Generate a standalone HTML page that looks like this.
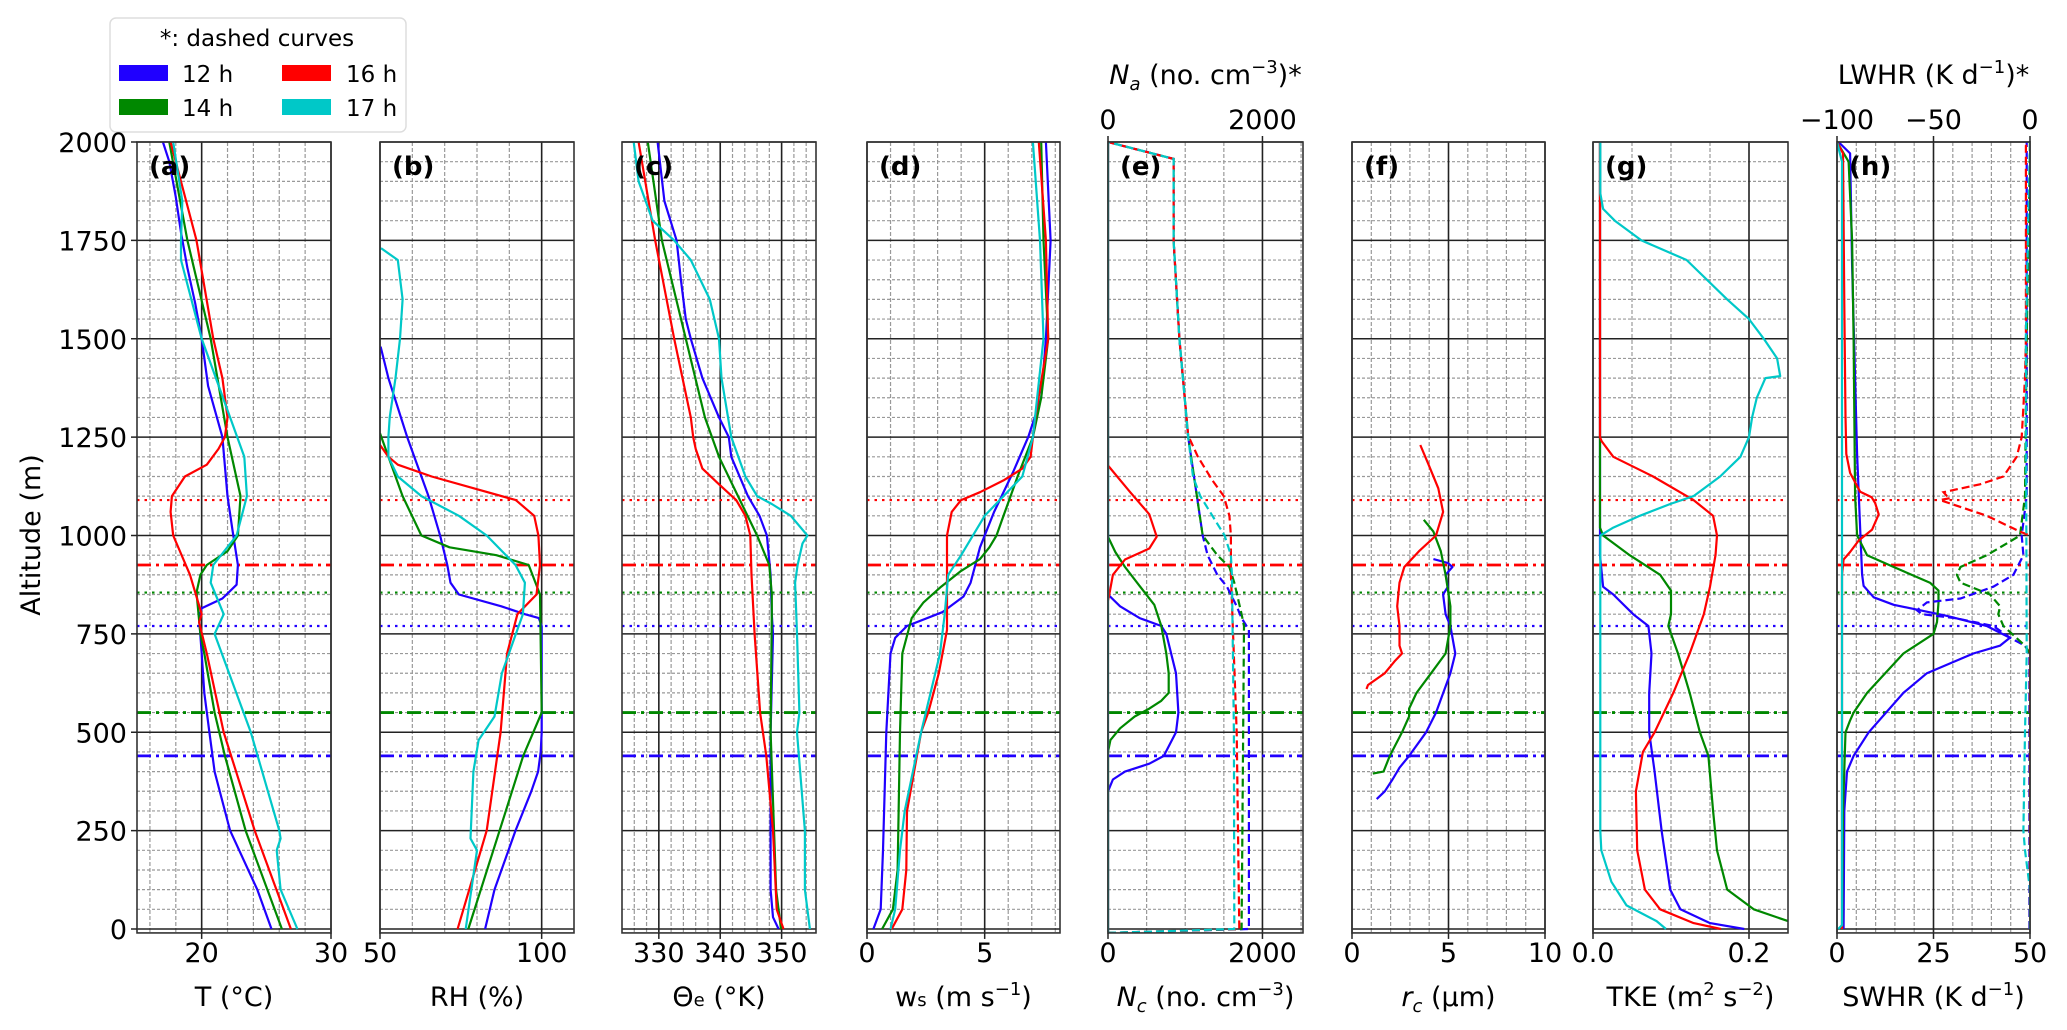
<!DOCTYPE html>
<html><head><meta charset="utf-8"><style>
html,body{margin:0;padding:0;background:#fff}
svg{display:block;font-family:"DejaVu Sans","Liberation Sans",sans-serif}
</style></head><body>
<svg id="fig" width="2067" height="1030" viewBox="0 0 2067 1030" xmlns="http://www.w3.org/2000/svg">
<g id="legend">
 <rect x="110" y="18" width="296" height="114" rx="6" fill="#fff" stroke="#ddd" stroke-width="1.5"/>
 <text x="257" y="46" font-size="23" text-anchor="middle">*: dashed curves</text>
 <g><rect x="119" y="65" width="49" height="16" fill="#2000ff"/><text x="182" y="82" font-size="23">12 h</text></g>
 <g><rect x="119" y="99" width="49" height="16" fill="#008800"/><text x="182" y="116" font-size="23">14 h</text></g>
 <g><rect x="282" y="65" width="49" height="16" fill="#ff0000"/><text x="346" y="82" font-size="23">16 h</text></g>
 <g><rect x="282" y="99" width="49" height="16" fill="#00c8c8"/><text x="346" y="116" font-size="23">17 h</text></g>
</g>
<text x="40" y="535" font-size="27" text-anchor="middle" transform="rotate(-90 40 535)">Altitude (m)</text>
</svg>
<script>
// ---- data: [altitude m, value] ----
const T_12=[[0,25.4],[100,24.3],[250,22.2],[400,21.0],[500,20.6],[600,20.2],[700,20.0],[790,19.8],[815,20.0],[840,21.6],[875,22.7],[925,22.8],[1010,22.4],[1100,22.0],[1250,21.6],[1380,20.5],[1500,20.0],[1590,19.5],[1680,18.9],[1770,18.4],[1860,18.0],[1950,17.5],[2000,17.0]];
const T_14=[[0,26.2],[250,23.4],[440,21.8],[550,21.0],[700,20.2],[750,19.9],[855,19.6],[900,19.9],[925,20.4],[960,22.0],[1000,22.8],[1100,23.0],[1250,22.0],[1500,20.7],[1750,18.9],[2000,17.5]];
const T_16=[[0,26.9],[250,24.1],[500,21.7],[700,20.4],[780,19.8],[800,20.0],[900,19.1],[1000,17.8],[1060,17.6],[1100,17.7],[1150,18.7],[1180,20.4],[1220,21.3],[1250,21.8],[1300,22.0],[1400,21.6],[1500,20.9],[1750,19.6],[2000,17.6]];
const T_17=[[0,27.4],[100,26.1],[200,25.8],[230,26.1],[250,26.0],[500,23.8],[750,21.0],[800,21.7],[880,20.7],[925,20.9],[1000,22.7],[1100,23.5],[1200,23.3],[1300,22.2],[1500,20.0],[1700,18.4],[1750,18.4],[1850,18.5],[2000,17.8]];
const RH_12=[[0,82.5],[100,85.4],[250,91.9],[350,96.8],[400,98.9],[450,99.7],[500,100],[770,100],[790,99.1],[800,94.8],[820,87.5],[850,74.4],[880,71.8],[925,70.8],[1000,68.6],[1100,65],[1250,58.4],[1400,52.6],[1480,50.2]];
const RH_14=[[0,77.3],[250,87],[440,94.3],[550,100],[850,99.5],[925,96],[950,86],[970,71.5],[1000,62.8],[1100,57],[1200,52.6],[1260,50]];
const RH_16=[[0,74],[250,83],[500,87.3],[700,89.3],[800,92.5],[850,98.4],[925,99.5],[1000,99],[1050,97.7],[1090,92],[1120,79],[1150,66],[1180,55.5],[1200,52.6],[1230,50]];
const RH_17=[[0,76.5],[200,80],[230,78],[400,78.9],[480,80.5],[540,85.4],[650,87.7],[800,94.2],[880,94.8],[925,91.9],[1000,83],[1050,74.4],[1100,62.8],[1150,55.5],[1200,52.6],[1250,52.6],[1300,53],[1400,54.8],[1500,56.2],[1600,57],[1700,55.5],[1730,50.3]];
const TH_12=[[0,349.5],[30,348.6],[100,348.2],[500,348.2],[750,348.6],[800,348.4],[900,348.2],[1000,347.6],[1050,346.4],[1100,344.5],[1200,341.8],[1250,341.4],[1300,339.8],[1400,337.1],[1500,335.2],[1550,334.4],[1650,333.6],[1750,332.9],[1850,330.9],[2000,329.8]];
const TH_14=[[0,349.9],[100,349.1],[500,348.2],[800,348.4],[850,348.4],[925,348],[1000,346],[1100,342.9],[1200,339.8],[1300,337.5],[1500,334.4],[1750,330.5],[2000,328.2]];
const TH_16=[[0,350.3],[50,349.2],[250,348.6],[440,347.5],[550,346.5],[750,345.6],[900,345.1],[1000,344.9],[1050,344.1],[1090,342.6],[1130,339.8],[1170,337.1],[1220,336],[1250,335.6],[1300,335.2],[1500,332.5],[1750,329.4],[2000,326.7]];
const TH_17=[[0,354.6],[100,353.8],[250,353.8],[500,352.5],[550,352.9],[750,352.5],[880,352.2],[925,352.6],[980,353.4],[1000,354.2],[1050,351.5],[1080,348.4],[1100,346],[1150,344.1],[1250,341.8],[1400,340.2],[1500,339.8],[1600,338.3],[1700,335.2],[1750,332.5],[1800,329],[1900,326.7],[2000,325.9]];
const WS_12=[[0,0.27],[50,0.58],[200,0.68],[500,0.82],[700,1.0],[740,1.2],[770,1.7],[805,3.2],[845,4.1],[880,4.4],[970,4.8],[1060,5.4],[1160,6.2],[1250,6.85],[1350,7.4],[1500,7.6],[1750,7.8],[2000,7.6]];
const WS_14=[[0,0.64],[50,1.1],[150,1.3],[500,1.4],[700,1.5],[790,1.9],[830,2.4],[870,3.15],[910,4.0],[940,4.8],[970,5.2],[1000,5.5],[1050,5.8],[1100,6.1],[1150,6.4],[1250,7.05],[1350,7.4],[1500,7.7],[1750,7.5],[2000,7.4]];
const WS_16=[[0,1.05],[50,1.5],[150,1.67],[300,1.7],[400,2.0],[500,2.3],[550,2.6],[650,3.05],[760,3.4],[1000,3.4],[1060,3.6],[1090,4.0],[1110,4.8],[1140,5.8],[1170,6.6],[1200,6.95],[1300,7.15],[1500,7.7],[1750,7.6],[2000,7.3]];
const WS_17=[[0,1.0],[50,1.2],[200,1.4],[300,1.6],[500,2.3],[700,3.1],[800,3.3],[900,3.45],[950,4.0],[1050,5.0],[1100,5.8],[1150,6.6],[1250,7.05],[1500,7.5],[1750,7.35],[2000,7.05]];
const NC_12=[[-10,0],[350,0],[380,63],[400,220],[420,535],[440,723],[500,880],[550,912],[650,880],[750,755],[770,690],[790,409],[820,157],[850,0],[2000,0]];
const NC_14=[[-10,0],[450,0],[480,31],[510,157],[540,346],[560,535],[580,690],[600,786],[650,786],[700,755],[770,690],[824,600],[872,409],[920,220],[958,94],[997,0],[2000,0]];
const NC_16=[[-10,0],[834,0],[853,19],[900,63],[939,220],[967,535],[997,630],[1054,535],[1111,283],[1178,0],[2000,0]];
const NC_17=[[-10,0],[2000,0]];
const NA_12=[[-10,0],[0,1824],[760,1824],[770,1793],[790,1730],[820,1667],[870,1541],[900,1415],[950,1290],[1000,1226],[1250,1038],[1500,925],[1750,850],[1957,850],[2000,0]];
const NA_14=[[-10,0],[0,1730],[770,1761],[800,1730],[880,1635],[920,1572],[950,1415],[1000,1226],[1250,1038],[1500,925],[1750,850],[1957,850],[2000,0]];
const NA_16=[[-10,0],[0,1700],[500,1667],[900,1591],[1000,1591],[1050,1572],[1100,1500],[1140,1352],[1200,1164],[1254,1038],[1500,925],[1750,850],[1957,850],[2000,0]];
const NA_17=[[-10,0],[0,1635],[500,1630],[900,1604],[950,1591],[1000,1510],[1050,1352],[1100,1195],[1150,1100],[1250,1038],[1500,925],[1750,850],[1957,850],[2000,0]];
const RC_12=[[330,1.28],[350,1.7],[380,2.1],[410,2.46],[440,2.96],[500,3.84],[550,4.35],[650,5.1],[700,5.35],[770,5.1],[800,4.85],[850,4.72],[870,4.97],[900,4.85],[920,5.2],[930,4.97],[940,4.22]];
const RC_14=[[395,1.08],[400,1.63],[440,1.96],[500,2.59],[540,2.96],[560,2.96],[600,3.34],[650,4.1],[700,4.85],[770,5.1],[820,5.1],[900,4.85],[960,4.6],[1010,4.22],[1040,3.72]];
const RC_16=[[610,0.75],[620,0.83],[650,1.7],[680,2.2],[700,2.59],[720,2.46],[770,2.46],[820,2.34],[880,2.46],[920,2.71],[960,3.47],[1000,4.35],[1060,4.72],[1120,4.47],[1180,3.97],[1230,3.54]];
const TKE_12=[[0,0.194],[15,0.150],[50,0.112],[100,0.099],[250,0.088],[400,0.079],[500,0.072],[600,0.072],[700,0.075],[770,0.071],[800,0.0515],[850,0.026],[870,0.013],[950,0.009],[2000,0.009]];
const TKE_14=[[0,0.29],[20,0.25],[50,0.206],[100,0.172],[200,0.159],[300,0.154],[440,0.148],[500,0.137],[600,0.124],[700,0.109],[770,0.0966],[800,0.1],[860,0.1],[900,0.086],[950,0.047],[1000,0.013],[1020,0.009],[2000,0.009]];
const TKE_16=[[0,0.164],[15,0.129],[50,0.086],[100,0.0665],[200,0.0567],[350,0.055],[450,0.064],[500,0.079],[600,0.103],[700,0.124],[800,0.142],[870,0.15],[950,0.157],[1000,0.159],[1050,0.154],[1090,0.129],[1150,0.077],[1200,0.026],[1240,0.011],[1250,0.009],[2000,0.009]];
const TKE_17=[[0,0.0936],[20,0.0815],[60,0.043],[120,0.0236],[200,0.0107],[250,0.0094],[1000,0.0094],[1020,0.026],[1050,0.06],[1080,0.099],[1100,0.129],[1150,0.163],[1200,0.189],[1250,0.2],[1300,0.204],[1350,0.21],[1400,0.221],[1405,0.24],[1450,0.236],[1500,0.219],[1550,0.2],[1600,0.172],[1700,0.12],[1750,0.062],[1800,0.028],[1830,0.013],[1870,0.0094],[2000,0.0094]];
const SW_12=[[0,1.7],[300,1.9],[400,2.6],[440,4.3],[500,8.2],[600,17.2],[650,23.3],[700,35.3],[720,42.2],[740,44.8],[770,38.8],[796,28.4],[824,14.7],[843,9.5],[872,6.9],[901,6.5],[1015,6.0],[1207,5.2],[1398,4.7],[1685,3.9],[1971,3.4],[2000,0.4]];
const SW_14=[[0,1.3],[300,1.55],[500,2.2],[530,3.4],[550,4.3],[600,7.8],[700,17.2],[750,25],[780,25.9],[830,26.3],[860,26.3],[880,24.1],[920,14.7],[950,7.8],[1000,5.2],[1100,4.7],[1500,4.3],[1750,3.9],[1950,3.0],[2000,0]];
const SW_16=[[0,1.3],[900,1.3],[939,1.7],[958,3.4],[987,5.6],[1015,9.1],[1054,10.8],[1082,9.9],[1097,9],[1111,6],[1159,3.4],[1207,2.4],[1302,2.2],[1589,1.9],[1971,1.55],[2000,0]];
const SW_17=[[0,0.3],[10,1.3],[1950,1.3],[2000,0]];
const LW_12=[[0,-0.3],[700,-0.3],[720,-2.6],[740,-10.3],[770,-19],[790,-38.8],[800,-56],[810,-58.6],[830,-53.4],[840,-36],[870,-19],[900,-8.6],[950,-3.4],[1000,-4.3],[1100,-1.7],[2000,-1.7]];
const LW_14=[[0,0],[700,0],[720,-2.6],[770,-13.8],[800,-16.4],[820,-15.5],[850,-20.7],[880,-36],[900,-37.9],[920,-36],[950,-22.4],[980,-12],[1000,-5.2],[1100,-2.6],[1500,-1.7],[2000,0]];
const LW_16=[[0,0],[1000,0],[1010,-5.2],[1050,-22.4],[1090,-46.6],[1095,-41.4],[1100,-43],[1110,-44.8],[1130,-25.9],[1150,-13.8],[1200,-6.9],[1250,-4.3],[1400,-2.6],[1500,-2.1],[1990,-2.1],[2000,0]];
const LW_17=[[0,0],[100,0],[200,-2.6],[250,-3.4],[500,-2.6],[700,-1.7],[1500,-2.2],[2000,0]];
// reference heights (m)
const LEVEL_ALTS=[1090,925,855,770,550,440];
const LEVEL_COLORS=['#ff0000','#ff0000','#008800','#2000ff','#008800','#2000ff'];
const LEVEL_STYLES=['dot','dashdot','dot','dot','dashdot','dashdot'];
const Y_TICKS=[0,250,500,750,1000,1250,1500,1750,2000];
const Y_TICK_LABELS=['0','250','500','750','1000','1250','1500','1750','2000'];

const COLORS=['#2000ff','#008800','#ff0000','#00c8c8'];
const HOURS=['12h','14h','16h','17h'];
const svg=document.getElementById('fig');
const NS='http://www.w3.org/2000/svg';
const Y0=929, YS=(929-142)/2000, YMIN=-10, YMAX=2000;
function yPx(a){return Y0-a*YS;}
function mk(tag,attrs,parent){const e=document.createElementNS(NS,tag);for(const k in attrs)e.setAttribute(k,attrs[k]);(parent||svg).appendChild(e);return e;}

const panels=[
 {id:'a',x0:137,x1:331,lim:[15,30],major:[20,30],labels:['20','30'],minorStep:2,series:[T_12,T_14,T_16,T_17],xl:'T (°C)'},
 {id:'b',x0:380,x1:574,lim:[50,110],major:[50,100],labels:['50','100'],minorStep:10,series:[RH_12,RH_14,RH_16,RH_17],xl:'RH (%)'},
 {id:'c',x0:622,x1:816,lim:[324,355.6],major:[330,340,350],labels:['330','340','350'],minorStep:2,series:[TH_12,TH_14,TH_16,TH_17],xl:'theta'},
 {id:'d',x0:867,x1:1060,lim:[0,8.2],major:[0,5],labels:['0','5'],minorStep:1,series:[WS_12,WS_14,WS_16,WS_17],xl:'ws'},
 {id:'e',x0:1108,x1:1303,lim:[0,2525],major:[0,2000],labels:['0','2000'],minorStep:500,series:[NC_12,NC_14,NC_16,NC_17],dashed:[NA_12,NA_14,NA_16,NA_17],xl:'nc'},
 {id:'f',x0:1352,x1:1545,lim:[0,10],major:[0,5,10],labels:['0','5','10'],minorStep:1,series:[RC_12,RC_14,RC_16],xl:'rc'},
 {id:'g',x0:1593,x1:1788,lim:[0,0.25],major:[0,0.2],labels:['0.0','0.2'],minorStep:0.05,series:[TKE_12,TKE_14,TKE_16,TKE_17],xl:'tke'},
 {id:'h',x0:1837,x1:2030,lim:[0,50],major:[0,25,50],labels:['0','25','50'],minorStep:5,series:[SW_12,SW_14,SW_16,SW_17],dashed:[LW_12,LW_14,LW_16,LW_17],dlim:[-100,0],xl:'swhr'}
];
const dashMap={dot:'2.5,5',dashdot:'14,5,3,5'};
panels.forEach(p=>{
 const g=mk('g',{});
 
 
 const xs=v=>p.x0+(v-p.lim[0])/(p.lim[1]-p.lim[0])*(p.x1-p.x0);
 const yT=yPx(YMAX), yB=yPx(YMIN);
 const cp=mk('clipPath',{id:'clip-'+p.id},g);
 mk('rect',{x:p.x0,y:yT,width:p.x1-p.x0,height:yB-yT},cp);
 // minor grid
 const grid=mk('g',{},g);
 
 
 for(let a=50;a<2000;a+=50){ if(a%250===0)continue;
  mk('line',{x1:p.x0,x2:p.x1,y1:yPx(a),y2:yPx(a),stroke:'#999','stroke-width':1.2,'stroke-dasharray':'3,2'},grid);}
 const start=Math.ceil(p.lim[0]/p.minorStep-1e-9)*p.minorStep;
 for(let v=start;v<=p.lim[1]+1e-9;v+=p.minorStep){
  if(p.major.some(m=>Math.abs(m-v)<1e-9))continue;
  const x=xs(v); if(x<=p.x0+1||x>=p.x1-1)continue;
  mk('line',{x1:x,x2:x,y1:yT,y2:yB,stroke:'#999','stroke-width':1.2,'stroke-dasharray':'4,2'},grid);}
 Y_TICKS.forEach(a=>mk('line',{x1:p.x0,x2:p.x1,y1:yPx(a),y2:yPx(a),stroke:'#222','stroke-width':1.6},grid));
 p.major.forEach(v=>mk('line',{x1:xs(v),x2:xs(v),y1:yT,y2:yB,stroke:'#222','stroke-width':1.6},grid));
 // reference levels
 LEVEL_ALTS.forEach((a,i)=>{
  const l=mk('line',{x1:p.x0,x2:p.x1,y1:yPx(a),y2:yPx(a),stroke:LEVEL_COLORS[i],'stroke-width':LEVEL_STYLES[i]==='dot'?2.2:2.8,'stroke-dasharray':dashMap[LEVEL_STYLES[i]]},g);
  
  
 });
 const pts=(arr,sc)=>arr.map(d=>sc(d[1]).toFixed(1)+','+yPx(d[0]).toFixed(1)).join(' ');
 p.series.forEach((s,i)=>{
  const pl=mk('polyline',{points:pts(s,xs),fill:'none',stroke:COLORS[i],'stroke-width':2.2,'stroke-linejoin':'round','clip-path':'url(#clip-'+p.id+')'},g);
  
  
 });
 if(p.dashed){
  const dl=p.dlim||p.lim;
  const xd=v=>p.x0+(v-dl[0])/(dl[1]-dl[0])*(p.x1-p.x0);
  p.dashed.forEach((s,i)=>{
   const pl=mk('polyline',{points:pts(s,xd),fill:'none',stroke:COLORS[i],'stroke-width':2.2,'stroke-dasharray':'8,4','clip-path':'url(#clip-'+p.id+')'},g);
   
   
  });
 }
 const fr=mk('rect',{x:p.x0,y:yT,width:p.x1-p.x0,height:yB-yT,fill:'none',stroke:'#333','stroke-width':1.6},g);
 
 
 const pl=mk('text',{x:p.x0+12,y:yT+33,'font-size':26,'font-weight':'bold'},g);
 pl.textContent='('+p.id+')';
 
 
 // bottom tick labels
 p.major.forEach((v,i)=>{
  mk('line',{x1:xs(v),x2:xs(v),y1:yB,y2:yB+6,stroke:'#222','stroke-width':1.5},g);
  const t=mk('text',{x:xs(v),y:962,'font-size':27,'text-anchor':'middle'},g);
  t.textContent=p.labels[i];
  
  
 });
 if(p.id==='a'){
  Y_TICKS.forEach((a,i)=>{
   mk('line',{x1:p.x0-6,x2:p.x0,y1:yPx(a),y2:yPx(a),stroke:'#222','stroke-width':1.5},g);
   const t=mk('text',{x:p.x0-10,y:yPx(a)+10,'font-size':27,'text-anchor':'end'},g);
   t.textContent=Y_TICK_LABELS[i];
   
   
  });
 }
 const xl=mk('text',{x:(p.x0+p.x1)/2,y:1006,'font-size':27,'text-anchor':'middle'},g);
 
 
 const map={
  theta:'Θ<tspan font-size="18">e</tspan> (°K)',
  ws:'w<tspan font-size="18">s</tspan> (m s<tspan dy="-11" font-size="18">−1</tspan><tspan dy="11">)</tspan>',
  nc:'<tspan font-style="italic">N</tspan><tspan font-style="italic" font-size="18" dy="6">c</tspan><tspan dy="-6"> (no. cm</tspan><tspan dy="-11" font-size="18">−3</tspan><tspan dy="11">)</tspan>',
  rc:'<tspan font-style="italic">r</tspan><tspan font-style="italic" font-size="18" dy="6">c</tspan><tspan dy="-6"> (μm)</tspan>',
  tke:'TKE (m<tspan dy="-11" font-size="18">2</tspan><tspan dy="11"> s</tspan><tspan dy="-11" font-size="18">−2</tspan><tspan dy="11">)</tspan>',
  swhr:'SWHR (K d<tspan dy="-11" font-size="18">−1</tspan><tspan dy="11">)</tspan>'};
 if(map[p.xl])xl.innerHTML=map[p.xl]; else xl.textContent=p.xl;
});
// top axes
const TOP_E_TICKS=[0,2000], TOP_E_LABELS=['0','2000'];
const TOP_H_TICKS=[-100,-50,0], TOP_H_LABELS=['−100','−50','0'];
function topAxis(p,ticks,labels,lim,title,name){
 const g=mk('g',{});
 
 
 ticks.forEach((v,i)=>{
  const x=p.x0+(v-lim[0])/(lim[1]-lim[0])*(p.x1-p.x0);
  mk('line',{x1:x,x2:x,y1:142,y2:136,stroke:'#222','stroke-width':1.5},g);
  const t=mk('text',{x:x,y:129,'font-size':27,'text-anchor':'middle'},g);
  t.textContent=labels[i];
 });
 const t=mk('text',{x:(p.x0+p.x1)/2,y:84,'font-size':27,'text-anchor':'middle'},g);
 t.innerHTML=title;
}
topAxis(panels[4],TOP_E_TICKS,TOP_E_LABELS,[0,2525],'<tspan font-style="italic">N</tspan><tspan font-style="italic" font-size="18" dy="6">a</tspan><tspan dy="-6"> (no. cm</tspan><tspan dy="-11" font-size="18">−3</tspan><tspan dy="11">)*</tspan>','top-axis-na');
topAxis(panels[7],TOP_H_TICKS,TOP_H_LABELS,[-100,0],'LWHR (K d<tspan dy="-11" font-size="18">−1</tspan><tspan dy="11">)*</tspan>','top-axis-lwhr');
</script>
</body></html>
